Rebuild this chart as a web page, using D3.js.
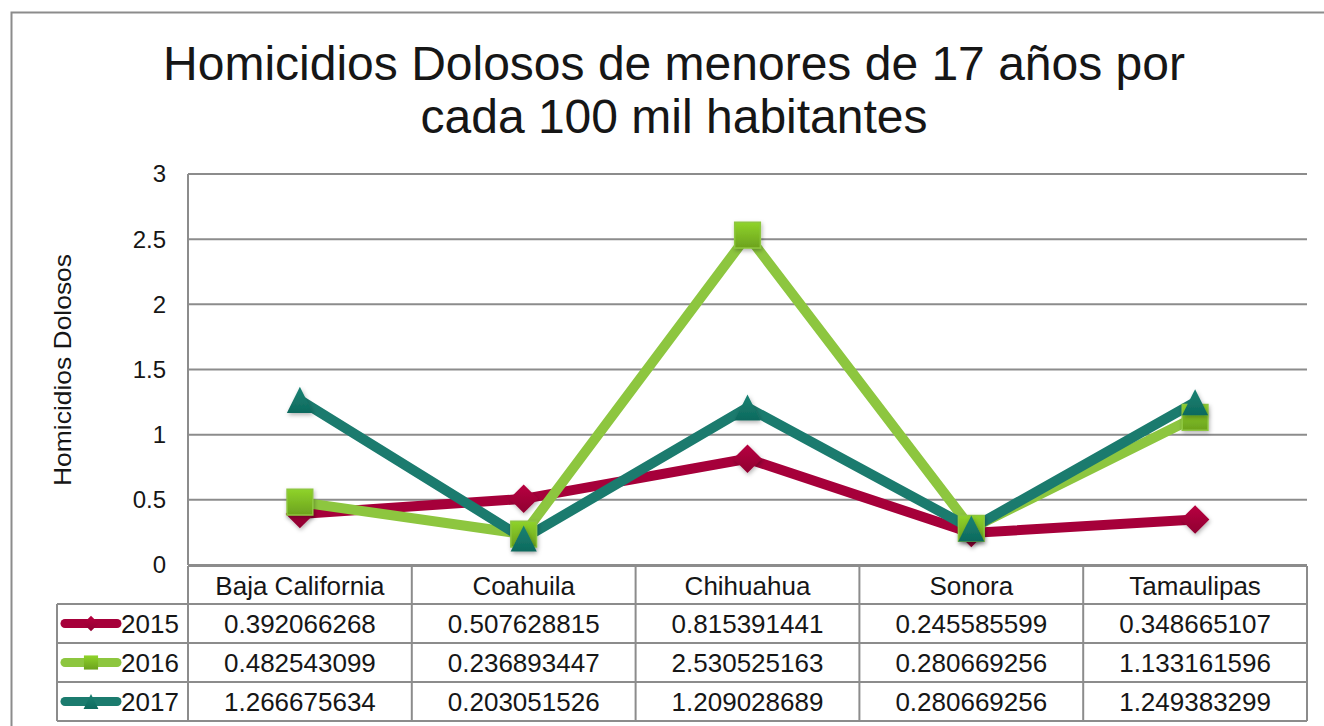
<!DOCTYPE html>
<html>
<head>
<meta charset="utf-8">
<script src="https://cdn.jsdelivr.net/npm/d3@7"></script>
<style>
  body { margin: 0; background: #fff; }
  svg { font-family: "Liberation Sans", Arial, sans-serif; }
</style>
</head>
<body>
<svg id="chart" width="1324" height="726"></svg>
<script>
const categories = ['Baja California', 'Coahuila', 'Chihuahua', 'Sonora', 'Tamaulipas'];
const years = ['2015', '2016', '2017'];
const values2015 = [0.392066268, 0.507628815, 0.815391441, 0.245585599, 0.348665107];
const values2016 = [0.482543099, 0.236893447, 2.530525163, 0.280669256, 1.133161596];
const values2017 = [1.266675634, 0.203051526, 1.209028689, 0.280669256, 1.249383299];
const yTicks = [0, 0.5, 1, 1.5, 2, 2.5, 3];

// triangle as wide as it is tall, like the office chart marker
const wideTriangle = {
  draw(ctx, size) {
    const r = Math.sqrt(size) / 2;
    ctx.moveTo(0, -r);
    ctx.lineTo(r, r);
    ctx.lineTo(-r, r);
    ctx.closePath();
  }
};

const series = [
  { name: years[0], values: values2015, color: '#a6003a', light: '#b8003f', dark: '#8f0032', symbol: d3.symbolDiamond2, size: 520, keySize: 150 },
  { name: years[1], values: values2016, color: '#8dc63f', light: '#8fd32a', dark: '#6ca21e', symbol: d3.symbolSquare, size: 660, keySize: 200 },
  { name: years[2], values: values2017, color: '#1b7b6e', light: '#1a8273', dark: '#0e6a5e', symbol: wideTriangle, size: 680, keySize: 220 }
];

const svg = d3.select('#chart');
const plotLeft = 188, plotRight = 1307, plotTop = 174, plotBottom = 565;
const rowH = 39;
const textColor = '#161616';
const gridColor = '#8c8c8c';

const defs = svg.append('defs');
const filter = defs.append('filter').attr('id', 'shadow')
  .attr('x', '-50%').attr('y', '-50%').attr('width', '200%').attr('height', '200%');
filter.append('feDropShadow')
  .attr('dx', 1).attr('dy', 2).attr('stdDeviation', 2)
  .attr('flood-color', '#000').attr('flood-opacity', 0.3);

series.forEach((s, si) => {
  const g = defs.append('linearGradient').attr('id', 'grad' + si)
    .attr('x1', 0).attr('y1', 0).attr('x2', 0).attr('y2', 1);
  g.append('stop').attr('offset', '0%').attr('stop-color', s.light);
  g.append('stop').attr('offset', '100%').attr('stop-color', s.dark);
});

// outer frame
svg.append('rect')
  .attr('x', 11.5).attr('y', 12.5)
  .attr('width', 1400).attr('height', 800)
  .attr('fill', 'none').attr('stroke', gridColor).attr('stroke-width', 2);

// title
svg.append('text')
  .attr('x', 674).attr('y', 80)
  .attr('text-anchor', 'middle')
  .style('font-size', '48px').style('fill', textColor)
  .text('Homicidios Dolosos de menores de 17 años por');
svg.append('text')
  .attr('x', 674).attr('y', 133)
  .attr('text-anchor', 'middle')
  .style('font-size', '48px').style('fill', textColor)
  .text('cada 100 mil habitantes');

const x = d3.scaleBand().domain(categories).range([plotLeft, plotRight]);
const y = d3.scaleLinear().domain([0, 3]).range([plotBottom, plotTop]);

// gridlines
svg.append('g')
  .selectAll('line')
  .data(yTicks)
  .enter()
  .append('line')
  .attr('x1', plotLeft).attr('x2', plotRight)
  .attr('y1', d => y(d)).attr('y2', d => y(d))
  .attr('stroke', gridColor).attr('stroke-width', 2);

svg.append('line')
  .attr('x1', plotLeft).attr('x2', plotLeft)
  .attr('y1', plotTop).attr('y2', plotBottom)
  .attr('stroke', gridColor).attr('stroke-width', 2);

// y tick labels
svg.append('g')
  .selectAll('text')
  .data(yTicks)
  .enter()
  .append('text')
  .attr('x', 166).attr('y', d => y(d))
  .attr('dy', '.35em')
  .attr('text-anchor', 'end')
  .style('font-size', '24px').style('fill', textColor)
  .text(d => d);

// y axis title
svg.append('text')
  .attr('transform', 'translate(71, 370) rotate(-90)')
  .attr('text-anchor', 'middle')
  .attr('textLength', 232)
  .attr('lengthAdjust', 'spacingAndGlyphs')
  .style('font-size', '24px').style('fill', textColor)
  .text('Homicidios Dolosos');

// data table
const tableTop = plotBottom + 1;
const table = svg.append('g');

table.append('line')
  .attr('x1', plotLeft).attr('x2', plotRight)
  .attr('y1', tableTop).attr('y2', tableTop)
  .attr('stroke', gridColor).attr('stroke-width', 2);
d3.range(1, 5).forEach(i => {
  table.append('line')
    .attr('x1', 57).attr('x2', plotRight)
    .attr('y1', tableTop + rowH * i - 1).attr('y2', tableTop + rowH * i - 1)
    .attr('stroke', gridColor).attr('stroke-width', 2);
});
table.append('line')
  .attr('x1', 57).attr('x2', 57)
  .attr('y1', tableTop + rowH - 1).attr('y2', tableTop + rowH * 4 - 1)
  .attr('stroke', gridColor).attr('stroke-width', 2);
d3.range(categories.length + 1).forEach(i => {
  const xx = plotLeft + x.bandwidth() * i;
  table.append('line')
    .attr('x1', xx).attr('x2', xx)
    .attr('y1', tableTop).attr('y2', tableTop + rowH * 4 - 1)
    .attr('stroke', gridColor).attr('stroke-width', 2);
});

// header row
table.selectAll('text.cat')
  .data(categories)
  .enter()
  .append('text')
  .attr('class', 'cat')
  .attr('x', d => x(d) + x.bandwidth() / 2)
  .attr('y', tableTop + rowH / 2)
  .attr('dy', '.35em')
  .attr('text-anchor', 'middle')
  .style('font-size', '26px').style('fill', textColor)
  .text(d => d);

series.forEach((s, si) => {
  const rowY = tableTop + rowH * (si + 1) + rowH / 2 - 1;
  // legend key
  table.append('line')
    .attr('x1', 65).attr('x2', 117)
    .attr('y1', rowY).attr('y2', rowY)
    .attr('stroke', s.color).attr('stroke-width', 9)
    .attr('stroke-linecap', 'round');
  table.append('path')
    .attr('d', d3.symbol().type(s.symbol).size(s.keySize))
    .attr('transform', `translate(91, ${rowY})`)
    .attr('fill', `url(#grad${si})`);
  table.append('text')
    .attr('x', 121).attr('y', rowY)
    .attr('dy', '.35em')
    .style('font-size', '26px').style('fill', textColor)
    .text(s.name);
  table.selectAll('text.v' + si)
    .data(s.values)
    .enter()
    .append('text')
    .attr('x', (d, i) => x(categories[i]) + x.bandwidth() / 2)
    .attr('y', rowY)
    .attr('dy', '.35em')
    .attr('text-anchor', 'middle')
    .style('font-size', '26px').style('fill', textColor)
    .text(d => d.toFixed(9));
});

// lines
const line = d3.line()
  .x((d, i) => x(categories[i]) + x.bandwidth() / 2)
  .y(d => y(d));

series.forEach(s => {
  svg.append('path')
    .datum(s.values)
    .attr('d', line)
    .attr('fill', 'none')
    .attr('stroke', s.color)
    .attr('stroke-width', 10)
    .attr('stroke-linejoin', 'miter');
});

series.forEach((s, si) => {
  svg.selectAll('path.m' + si)
    .data(s.values)
    .enter()
    .append('path')
    .attr('class', 'm' + si)
    .attr('d', d3.symbol().type(s.symbol).size(s.size))
    .attr('transform', (d, i) => `translate(${x(categories[i]) + x.bandwidth() / 2}, ${y(d)})`)
    .attr('fill', `url(#grad${si})`)
    .attr('stroke', si === 1 ? s.color : 'none')
    .attr('stroke-width', 1.5)
    .attr('filter', 'url(#shadow)');
});
</script>
</body>
</html>
